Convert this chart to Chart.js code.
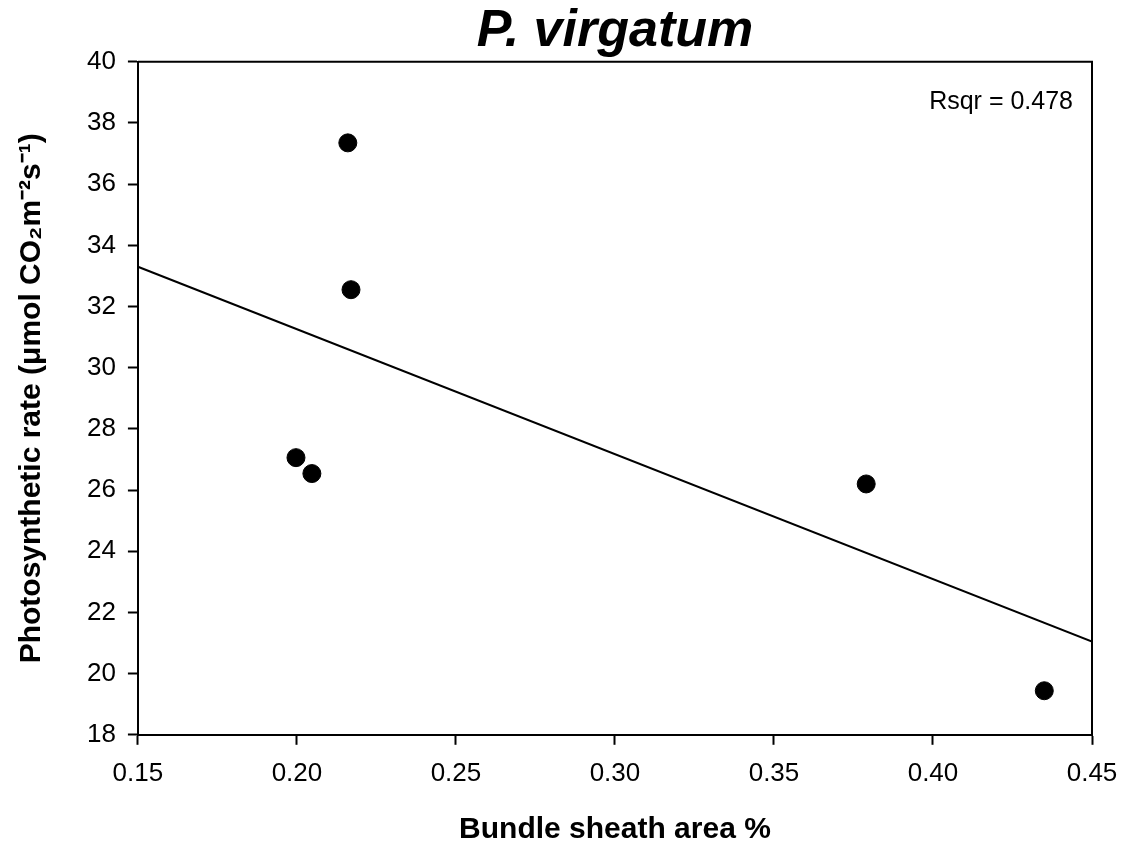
<!DOCTYPE html>
<html>
<head>
<meta charset="utf-8">
<script src="https://cdn.jsdelivr.net/npm/chart.js@4/dist/chart.umd.min.js"></script>
<style>
  html, body { margin: 0; padding: 0; background: #fff; }
  #myChart { display: block; }
</style>
</head>
<body>
<canvas id="myChart" width="1123" height="848"></canvas>
<script>
// measured points (bundle sheath area %, photosynthetic rate)
const sheathArea = [0.216, 0.217, 0.1997, 0.2047, 0.379, 0.435];
const photoRate = [37.35, 32.55, 27.06, 26.54, 26.2, 19.44];

// regression line ends
const fitX = [0.15, 0.45];
const fitY = [33.30, 21.05];

const xTicks = [0.15, 0.20, 0.25, 0.30, 0.35, 0.40, 0.45];
const yTicks = [18, 20, 22, 24, 26, 28, 30, 32, 34, 36, 38, 40];

const rsqrLabel = 'Rsqr = 0.478';

const FONT = 'Liberation Sans, Arial, sans-serif';

const framePlugin = {
    id: 'frame',
    afterDraw(chart) {
        const ctx = chart.ctx;
        const a = chart.chartArea;
        ctx.save();
        ctx.strokeStyle = '#000';
        ctx.lineWidth = 2;
        ctx.beginPath();
        ctx.moveTo(a.left, a.top);
        ctx.lineTo(a.right, a.top);
        ctx.lineTo(a.right, a.bottom);
        ctx.stroke();
        // r squared note
        ctx.fillStyle = '#000';
        ctx.font = '25px ' + FONT;
        ctx.textAlign = 'right';
        ctx.textBaseline = 'middle';
        ctx.fillText(rsqrLabel, a.right - 19, a.top + 40);
        ctx.restore();
    }
};

function drawChart() {
    const ctx = document.getElementById('myChart').getContext('2d');
    new Chart(ctx, {
        type: 'scatter',
        data: {
            datasets: [{
                data: sheathArea.map((x, i) => ({ x: x, y: photoRate[i] })),
                backgroundColor: '#000',
                borderColor: '#000',
                pointRadius: 9,
                pointHoverRadius: 9
            }, {
                type: 'line',
                data: fitX.map((x, i) => ({ x: x, y: fitY[i] })),
                borderColor: '#000',
                borderWidth: 2,
                pointRadius: 0,
                fill: false
            }]
        },
        options: {
            responsive: false,
            animation: false,
            devicePixelRatio: 1,
            layout: { padding: { left: 0, right: 31, top: 0, bottom: 0 } },
            plugins: {
                legend: { display: false },
                tooltip: { enabled: false },
                title: {
                    display: true,
                    fullSize: false,
                    text: 'P. virgatum',
                    color: '#000',
                    font: { family: FONT, size: 52, weight: 'bold', style: 'italic', lineHeight: 1.15 },
                    padding: { top: 2, bottom: 0 }
                }
            },
            scales: {
                x: {
                    type: 'linear',
                    min: 0.15,
                    max: 0.45,
                    afterBuildTicks: axis => { axis.ticks = xTicks.map(v => ({ value: v })); },
                    afterFit: axis => { axis.paddingRight = 0; axis.paddingLeft = 0; },
                    ticks: {
                        color: '#000',
                        font: { family: FONT, size: 26 },
                        padding: 13,
                        callback: v => v.toFixed(2)
                    },
                    grid: { drawOnChartArea: false, drawTicks: true, tickLength: 10, tickWidth: 2, color: '#000' },
                    border: { display: true, color: '#000', width: 2 },
                    title: {
                        display: true,
                        text: 'Bundle sheath area %',
                        color: '#000',
                        font: { family: FONT, size: 30, weight: 'bold' },
                        padding: { top: 10, bottom: 0 }
                    }
                },
                y: {
                    type: 'linear',
                    min: 18,
                    max: 40,
                    afterBuildTicks: axis => { axis.ticks = yTicks.map(v => ({ value: v })); },
                    ticks: {
                        color: '#000',
                        font: { family: FONT, size: 26 },
                        padding: 12
                    },
                    grid: { drawOnChartArea: false, drawTicks: true, tickLength: 10, tickWidth: 2, color: '#000' },
                    border: { display: true, color: '#000', width: 2 },
                    title: {
                        display: true,
                        text: 'Photosynthetic rate (\u03bcmol CO\u2082m\u207b\u00b2s\u207b\u00b9)',
                        color: '#000',
                        font: { family: FONT, size: 30, weight: 'bold' },
                        padding: { top: 14, bottom: 25 }
                    }
                }
            }
        },
        plugins: [framePlugin]
    });
}

drawChart();
</script>
</body>
</html>
